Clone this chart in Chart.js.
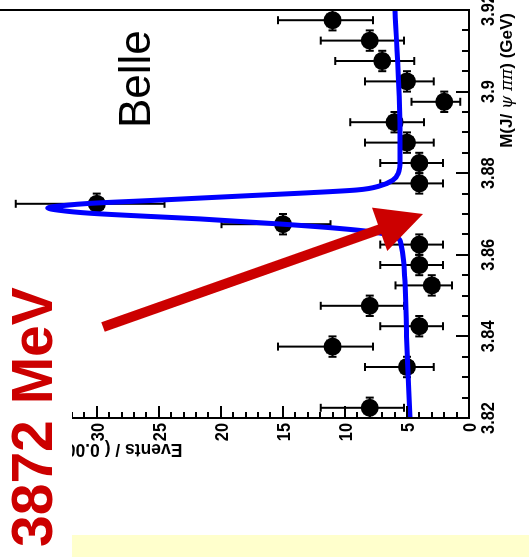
<!DOCTYPE html>
<html>
<head>
<meta charset="utf-8">
<script src="https://cdn.jsdelivr.net/npm/chart.js@4.4.1/dist/chart.umd.min.js"></script>
<style>
html, body { margin: 0; padding: 0; background: #fff; overflow: hidden; }
/* スライドは横倒し：元の図を描いてから左に90度回す */
#wrap { position: absolute; left: 0; top: 0; width: 557px; height: 529px;
        transform-origin: 0 0; transform: translateY(557px) rotate(-90deg); }
</style>
</head>
<body>
<div id="wrap"><canvas id="c" width="557" height="529"></canvas></div>
<script>
// ビン中心 (GeV) とイベント数
const massBins = [3.8225, 3.8275, 3.8325, 3.8375, 3.8425, 3.8475, 3.8525, 3.8575, 3.8625, 3.8675,
                  3.8725, 3.8775, 3.8825, 3.8875, 3.8925, 3.8975, 3.9025, 3.9075, 3.9125, 3.9175];
const events   = [8, null, 5, 11, 4, 8, 3, 4, 4, 15, 30, 4, 4, 5, 6, 2, 5, 7, 8, 11];
const errLow   = [2.77, null, 2.16, 3.26, 1.91, 2.77, 1.63, 1.91, 1.91, 3.83, 5.46, 1.91, 1.91, 2.16, 2.38, 1.29, 2.16, 2.58, 2.77, 3.26];
const errHigh  = [3.95, null, 3.38, 4.40, 3.16, 3.95, 2.92, 3.16, 3.16, 4.95, 6.54, 3.16, 3.16, 3.38, 3.58, 2.64, 3.38, 3.77, 3.95, 4.40];
const binHalf  = 0.0025;

// フィット曲線
const fitMass   = [3.8200, 3.8400, 3.8587, 3.8626, 3.8641, 3.8656, 3.8666, 3.8675, 3.8688, 3.8694, 3.8702, 3.8709, 3.8715,
                   3.8721, 3.8726, 3.8733, 3.8739, 3.8745, 3.8751, 3.8759, 3.8769, 3.8783, 3.8798, 3.8832, 3.8906, 3.9200];
const fitEvents = [4.76, 5.03, 5.28, 5.48, 5.73, 7.74, 11.0, 15.0, 21.7, 25.7, 30.6, 33.0, 33.95,
                   32.6, 30.6, 25.7, 21.7, 17.7, 13.6, 9.0, 7.18, 6.13, 5.73, 5.56, 5.56, 5.97];

// 目盛
const massTicks = [3.82, 3.84, 3.86, 3.88, 3.90, 3.92];
const massTickLabels = ['3.82', '3.84', '3.86', '3.88', '3.9', '3.92'];
const massMinorStep = 0.005;
const eventTicks = [0, 5, 10, 15, 20, 25, 30];
const eventTickLabels = ['0', '5', '10', '15', '20', '25', '30'];
const eventMinorStep = 1;

// 矢印（データ座標）
const arrowFrom = { m: 3.8423, e: 29.5 };
const arrowTo   = { m: 3.8700, e: 3.7 };

const RED = '#cc0000';

function drawText(ctx, str, x, y, font, color, align, sx) {
    ctx.save();
    ctx.translate(x, y);
    ctx.scale(sx || 1, 1);
    ctx.font = font;
    ctx.fillStyle = color;
    ctx.textAlign = align;
    ctx.textBaseline = 'alphabetic';
    ctx.fillText(str, 0, 0);
    ctx.restore();
}

// 誤差棒（点の下に描く）
const errorBars = {
    id: 'errorBars',
    beforeDatasetsDraw(chart) {
        const ctx = chart.ctx;
        const xs = chart.scales.x, ys = chart.scales.y;
        ctx.save();
        ctx.strokeStyle = '#000';
        ctx.lineWidth = 2;
        massBins.forEach((m, i) => {
            if (events[i] === null) return;
            const px = xs.getPixelForValue(m);
            const y1 = ys.getPixelForValue(events[i] - errLow[i]);
            const y2 = ys.getPixelForValue(events[i] + errHigh[i]);
            const py = ys.getPixelForValue(events[i]);
            const x1 = xs.getPixelForValue(m - binHalf);
            const x2 = xs.getPixelForValue(m + binHalf);
            ctx.beginPath();
            ctx.moveTo(px, y1); ctx.lineTo(px, y2);
            ctx.moveTo(px - 4, y1); ctx.lineTo(px + 4, y1);
            ctx.moveTo(px - 4, y2); ctx.lineTo(px + 4, y2);
            ctx.moveTo(x1, py); ctx.lineTo(x2, py);
            ctx.moveTo(x1, py - 4); ctx.lineTo(x1, py + 4);
            ctx.moveTo(x2, py - 4); ctx.lineTo(x2, py + 4);
            ctx.stroke();
        });
        ctx.restore();
    }
};

// 枠・目盛・文字・矢印
const decorations = {
    id: 'decorations',
    afterDraw(chart) {
        const ctx = chart.ctx;
        const a = chart.chartArea;
        const xs = chart.scales.x, ys = chart.scales.y;
        ctx.save();

        // 矢印
        const fx = xs.getPixelForValue(arrowFrom.m), fy = ys.getPixelForValue(arrowFrom.e);
        const tx = xs.getPixelForValue(arrowTo.m), ty = ys.getPixelForValue(arrowTo.e);
        const ang = Math.atan2(ty - fy, tx - fx);
        const headLen = 46, headHalf = 23;
        const bx = tx - headLen * Math.cos(ang), by = ty - headLen * Math.sin(ang);
        ctx.strokeStyle = RED;
        ctx.fillStyle = RED;
        ctx.lineWidth = 10;
        ctx.lineCap = 'butt';
        ctx.beginPath();
        ctx.moveTo(fx, fy);
        ctx.lineTo(bx + 2 * Math.cos(ang), by + 2 * Math.sin(ang));
        ctx.stroke();
        ctx.beginPath();
        ctx.moveTo(tx, ty);
        ctx.lineTo(bx - headHalf * Math.sin(ang), by + headHalf * Math.cos(ang));
        ctx.lineTo(bx + headHalf * Math.sin(ang), by - headHalf * Math.cos(ang));
        ctx.closePath();
        ctx.fill();

        // 軸線と枠
        ctx.strokeStyle = '#000';
        ctx.lineWidth = 2;
        ctx.beginPath();
        ctx.moveTo(a.left, a.top); ctx.lineTo(a.left, a.bottom); ctx.lineTo(a.right, a.bottom); ctx.lineTo(a.right, a.top);
        ctx.stroke();

        // 質量軸の目盛（内向き）
        ctx.lineWidth = 2;
        ctx.beginPath();
        for (let m = massTicks[0]; m <= massTicks[massTicks.length - 1] + 1e-9; m += massMinorStep) {
            const px = Math.round(xs.getPixelForValue(m));
            const major = massTicks.some(t => Math.abs(t - m) < 1e-6);
            ctx.moveTo(px, a.bottom);
            ctx.lineTo(px, a.bottom - (major ? 13 : 7));
        }
        // イベント軸の目盛（内向き）
        for (let e = 0; e <= ys.max; e += eventMinorStep) {
            const py = Math.round(ys.getPixelForValue(e));
            const major = eventTicks.includes(e);
            ctx.moveTo(a.left, py);
            ctx.lineTo(a.left + (major ? 12 : 6), py);
        }
        ctx.stroke();

        // 目盛ラベル
        const tickFont = 'bold 19px "Liberation Sans", Arial, sans-serif';
        massTicks.forEach((m, i) => {
            drawText(ctx, massTickLabels[i], xs.getPixelForValue(m), a.bottom + 25, tickFont, '#000', 'center', 0.86);
        });
        eventTicks.forEach((e, i) => {
            drawText(ctx, eventTickLabels[i], a.left - 5, ys.getPixelForValue(e) + 7, tickFont, '#000', 'right', 0.86);
        });

        // 質量軸タイトル（右寄せ）
        const parts = [
            ['M(J/ ', 'bold 17px "Liberation Sans", Arial, sans-serif'],
            ['\u03C8', 'italic 17px "DejaVu Serif", serif'],
            [' ', 'bold 17px "Liberation Sans", Arial, sans-serif'],
            ['\u03C0\u03C0', 'italic 17px "DejaVu Serif", serif'],
            [') (GeV)', 'bold 17px "Liberation Sans", Arial, sans-serif']
        ];
        let total = 0;
        parts.forEach(p => { ctx.font = p[1]; total += ctx.measureText(p[0]).width; });
        let cx = a.right - 3 - total;
        parts.forEach(p => {
            drawText(ctx, p[0], cx, a.bottom + 43, p[1], '#000', 'left');
            ctx.font = p[1];
            cx += ctx.measureText(p[0]).width;
        });

        // イベント軸タイトル（回転）
        ctx.save();
        ctx.translate(a.left - 26, ys.getPixelForValue(23.1));
        ctx.rotate(-Math.PI / 2);
        ctx.font = 'bold 17.5px "Liberation Sans", Arial, sans-serif';
        ctx.fillStyle = '#000';
        ctx.textAlign = 'left';
        ctx.fillText('Events / ( 0.005 GeV )', 0, 0);
        ctx.restore();

        // Belle
        drawText(ctx, 'Belle', 429, 150, '44px "Liberation Sans", Arial, sans-serif', '#000', 'left');

        // スライドのテキストボックス
        ctx.fillStyle = '#fff';
        ctx.fillRect(0, 0, 292, 72);
        drawText(ctx, '3872 MeV', 10, 52, 'bold 57px "Liberation Sans", Arial, sans-serif', RED, 'left');

        // 下の黄色い帯
        ctx.fillStyle = '#ffffcc';
        ctx.fillRect(0, 72, 22, 457);

        ctx.restore();
    }
};

const fitData = fitMass.map((m, i) => ({ x: m, y: fitEvents[i] }));
const pointData = massBins.map((m, i) => ({ x: m, y: events[i] })).filter(p => p.y !== null);

new Chart(document.getElementById('c').getContext('2d'), {
    type: 'scatter',
    data: {
        datasets: [{
            label: 'fit',
            data: fitData,
            showLine: true,
            borderColor: '#0000ff',
            borderWidth: 5,
            pointRadius: 0,
            cubicInterpolationMode: 'monotone',
            fill: false
        }, {
            label: 'data',
            data: pointData,
            pointRadius: 9,
            pointBackgroundColor: '#000',
            pointBorderColor: '#000',
            pointBorderWidth: 0
        }]
    },
    options: {
        responsive: false,
        animation: false,
        events: [],
        layout: { autoPadding: false, padding: { left: 139, right: 10, top: 0, bottom: 60 } },
        plugins: { legend: { display: false }, tooltip: { enabled: false } },
        scales: {
            x: { type: 'linear', min: 3.82, max: 3.92, display: false },
            y: { type: 'linear', min: 0, max: 37.8, display: false }
        }
    },
    plugins: [errorBars, decorations]
});
</script>
</body>
</html>
